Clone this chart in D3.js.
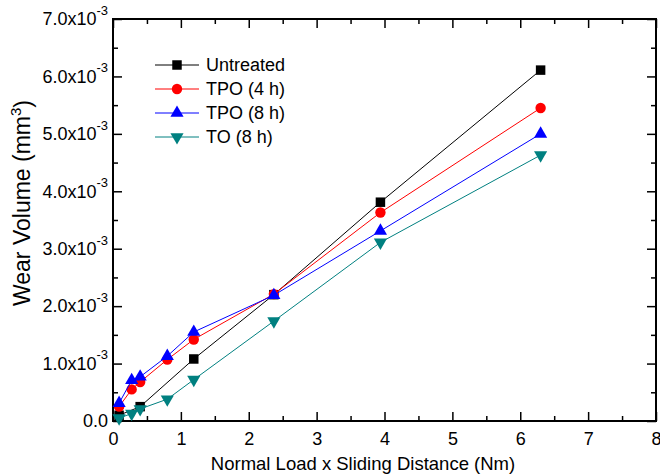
<!DOCTYPE html>
<html>
<head>
<meta charset="utf-8">
<script src="https://cdn.jsdelivr.net/npm/d3@7"></script>
<style>
  body { margin: 0; background: #fff; }
  svg { font-family: "Liberation Sans", Arial, Helvetica, sans-serif; }
</style>
</head>
<body>
<script>
//width and height of svg
var w = 660;
var h = 475;

//plot frame in pixels
var plotLeft = 113, plotRight = 656, plotTop = 19, plotBottom = 421;

//data (x in Nm, y in 10^-3 mm^3)
var untreatedX = [0.09, 0.40, 1.19, 2.37, 3.94, 6.30];
var untreatedY = [0.10, 0.25, 1.08, 2.20, 3.81, 6.11];
var treatedX = [0.09, 0.275, 0.40, 0.80, 1.19, 2.37, 3.94, 6.30];
var tpo4Y = [0.25, 0.55, 0.68, 1.07, 1.42, 2.21, 3.63, 5.45];
var tpo8Y = [0.31, 0.71, 0.77, 1.13, 1.55, 2.19, 3.31, 5.00];
var toY = [0.05, 0.13, 0.21, 0.38, 0.72, 1.74, 3.11, 4.63];

var seriesNames = ["Untreated", "TPO (4 h)", "TPO (8 h)", "TO (8 h)"];
var seriesColors = ["#000000", "#ff0000", "#0000ff", "#008080"];
var seriesMarkers = ["square", "circle", "up", "down"];

var xTicks = [0, 1, 2, 3, 4, 5, 6, 7, 8];
var yTicks = [0, 1, 2, 3, 4, 5, 6, 7];
var yTickLabels = ["0.0", "1.0x10", "2.0x10", "3.0x10", "4.0x10", "5.0x10", "6.0x10", "7.0x10"];

var series = [
  { x: untreatedX, y: untreatedY },
  { x: treatedX, y: tpo4Y },
  { x: treatedX, y: tpo8Y },
  { x: treatedX, y: toY }
].map(function(s, i) {
  return {
    name: seriesNames[i],
    color: seriesColors[i],
    marker: seriesMarkers[i],
    points: s.x.map(function(v, j) { return { x: v, y: s.y[j] }; })
  };
});

var svg = d3.select("body")
            .append("svg")
            .attr("width", w)
            .attr("height", h);

var xScale = d3.scaleLinear().domain([0, 8]).range([plotLeft, plotRight]);
var yScale = d3.scaleLinear().domain([0, 7]).range([plotBottom, plotTop]);

var minorX = d3.range(0.5, 8, 1);
var minorY = d3.range(0.5, 7, 1);

//axes, ticks pointing inward on all four sides
function styleAxis(g) {
  g.select(".domain").remove();
  g.selectAll(".tick line").attr("stroke", "#000").attr("stroke-width", 1.5);
}

svg.append("g")
   .attr("transform", "translate(0," + plotBottom + ")")
   .call(d3.axisBottom(xScale).tickValues(xTicks).tickSize(-9).tickPadding(11))
   .call(styleAxis)
   .selectAll("text").attr("font-size", 18).attr("fill", "#000")
   .attr("font-family", "Liberation Sans, Arial, sans-serif");

svg.append("g")
   .attr("transform", "translate(0," + plotBottom + ")")
   .call(d3.axisBottom(xScale).tickValues(minorX).tickSize(-5).tickFormat(""))
   .call(styleAxis);

svg.append("g")
   .attr("transform", "translate(0," + plotTop + ")")
   .call(d3.axisTop(xScale).tickValues(xTicks).tickSize(-9).tickFormat(""))
   .call(styleAxis);

svg.append("g")
   .attr("transform", "translate(0," + plotTop + ")")
   .call(d3.axisTop(xScale).tickValues(minorX).tickSize(-5).tickFormat(""))
   .call(styleAxis);

var yAxis = svg.append("g")
   .attr("transform", "translate(" + plotLeft + ",0)")
   .call(d3.axisLeft(yScale).tickValues(yTicks).tickSize(-9).tickPadding(5)
           .tickFormat(function(d, i) { return yTickLabels[i]; }))
   .call(styleAxis);

yAxis.selectAll("text")
   .attr("font-size", 18).attr("fill", "#000")
   .attr("font-family", "Liberation Sans, Arial, sans-serif")
   .each(function(d, i) {
     if (i > 0) {
       d3.select(this).append("tspan")
         .attr("font-size", 13)
         .attr("dy", "-0.8em")
         .text("-3");
     }
   });

svg.append("g")
   .attr("transform", "translate(" + plotLeft + ",0)")
   .call(d3.axisLeft(yScale).tickValues(minorY).tickSize(-5).tickFormat(""))
   .call(styleAxis);

svg.append("g")
   .attr("transform", "translate(" + plotRight + ",0)")
   .call(d3.axisRight(yScale).tickValues(yTicks).tickSize(-9).tickFormat(""))
   .call(styleAxis);

svg.append("g")
   .attr("transform", "translate(" + plotRight + ",0)")
   .call(d3.axisRight(yScale).tickValues(minorY).tickSize(-5).tickFormat(""))
   .call(styleAxis);

//frame
svg.append("rect")
   .attr("x", plotLeft).attr("y", plotTop)
   .attr("width", plotRight - plotLeft).attr("height", plotBottom - plotTop)
   .attr("fill", "none").attr("stroke", "#000").attr("stroke-width", 2);

//markers
function markerPath(type) {
  if (type == "square") return d3.symbol().type(d3.symbolSquare).size(90)();
  if (type == "circle") return d3.symbol().type(d3.symbolCircle).size(85)();
  return d3.symbol().type(d3.symbolTriangle).size(75)();
}
function markerTransform(type, x, y) {
  var t = "translate(" + x + "," + y + ")";
  if (type == "down") t += " rotate(180)";
  return t;
}

var line = d3.line()
   .x(function(d) { return xScale(d.x); })
   .y(function(d) { return yScale(d.y); });

var groups = svg.selectAll("g.series")
   .data(series)
   .enter()
   .append("g")
   .attr("class", "series");

groups.append("path")
   .attr("d", function(d) { return line(d.points); })
   .attr("fill", "none")
   .attr("stroke", function(d) { return d.color; })
   .attr("stroke-width", 1);

groups.each(function(s) {
  d3.select(this).selectAll("path.mark")
    .data(s.points)
    .enter()
    .append("path")
    .attr("class", "mark")
    .attr("d", markerPath(s.marker))
    .attr("transform", function(d) { return markerTransform(s.marker, xScale(d.x), yScale(d.y)); })
    .attr("fill", s.color);
});

//legend
var legend = svg.selectAll("g.legend")
   .data(series)
   .enter()
   .append("g")
   .attr("class", "legend")
   .attr("transform", function(d, i) { return "translate(155," + (65 + i * 24) + ")"; });

legend.append("line")
   .attr("x1", 0).attr("x2", 44)
   .attr("stroke", function(d) { return d.color; })
   .attr("stroke-width", 1);

legend.append("path")
   .attr("d", function(d) { return markerPath(d.marker); })
   .attr("transform", function(d) { return markerTransform(d.marker, 22, 0); })
   .attr("fill", function(d) { return d.color; });

legend.append("text")
   .attr("x", 51).attr("dy", "0.35em")
   .attr("font-size", 18)
   .text(function(d) { return d.name; });

//axis titles
svg.append("text")
   .attr("x", 363).attr("y", 470)
   .attr("text-anchor", "middle")
   .attr("font-size", 18.5)
   .text("Normal Load x Sliding Distance (Nm)");

var yTitle = svg.append("text")
   .attr("transform", "translate(30,203) rotate(-90)")
   .attr("text-anchor", "middle")
   .attr("font-size", 23);
yTitle.append("tspan").text("Wear Volume (mm");
yTitle.append("tspan").attr("font-size", 15).attr("dy", "-0.6em").text("3");
yTitle.append("tspan").attr("dy", "0.45em").text(")");
</script>
</body>
</html>
